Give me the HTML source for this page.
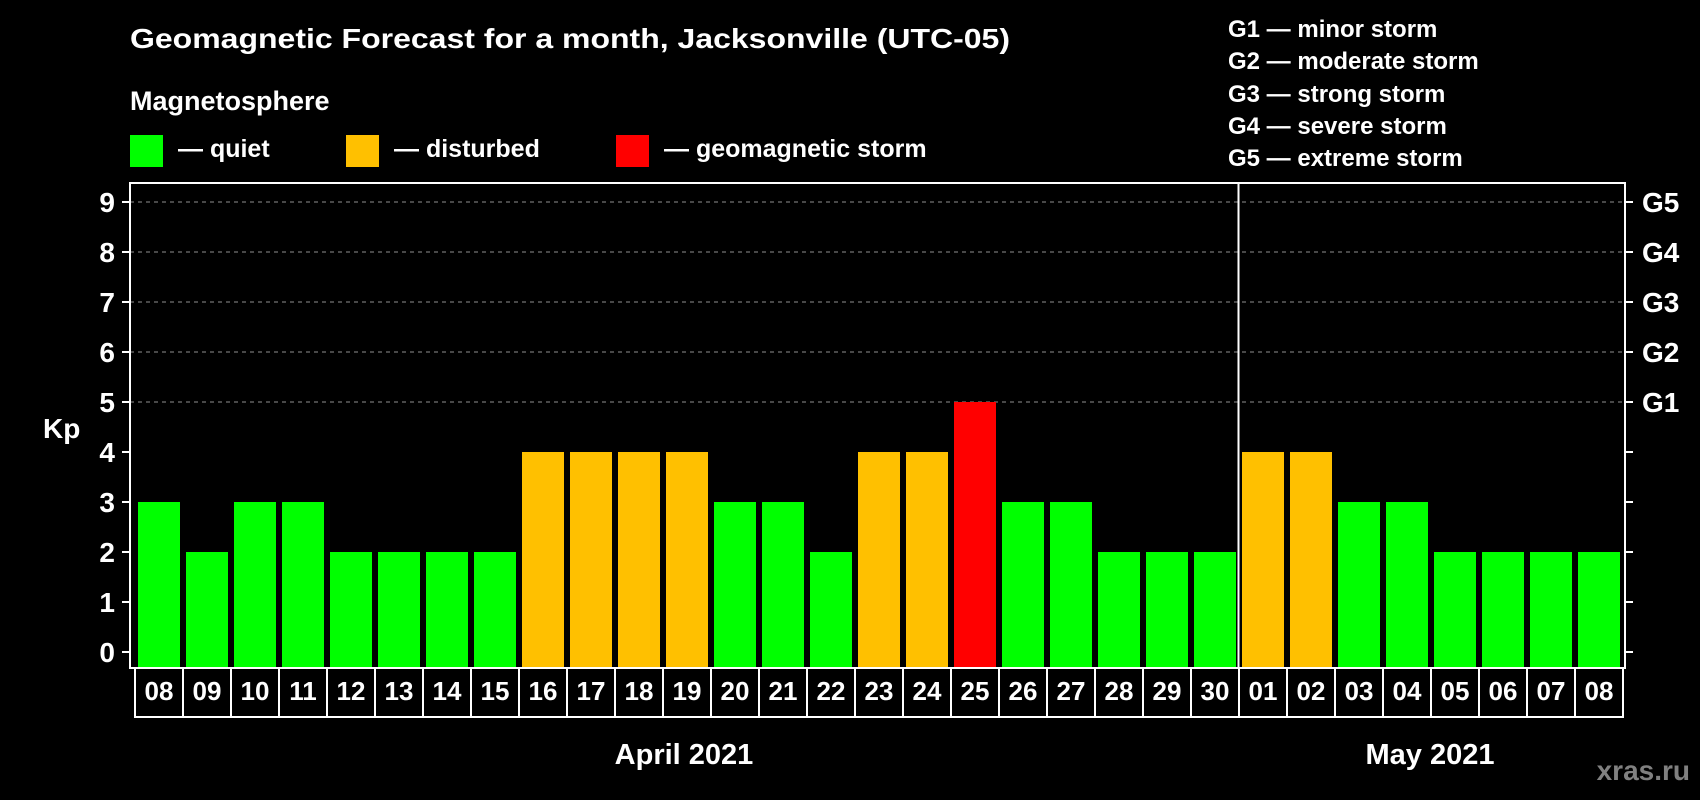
<!DOCTYPE html>
<html><head><meta charset="utf-8"><style>
html,body{margin:0;padding:0;background:#000;}
svg{display:block;font-family:"Liberation Sans",Arial,sans-serif;font-weight:bold;}
</style></head><body>
<svg id="chart" width="1700" height="800" viewBox="0 0 1700 800">
<rect x="0" y="0" width="1700" height="800" fill="#000"/>
<text x="130" y="48" font-size="28" fill="#fff" textLength="880" lengthAdjust="spacingAndGlyphs">Geomagnetic Forecast for a month, Jacksonville (UTC-05)</text>
<text x="130" y="110" font-size="27" fill="#fff">Magnetosphere</text>
<g>
<rect x="130" y="135" width="33" height="32" fill="#00ff00"/>
<text x="178" y="157" font-size="25" fill="#fff">— quiet</text></g>
<g>
<rect x="346" y="135" width="33" height="32" fill="#ffc000"/>
<text x="394" y="157" font-size="25" fill="#fff">— disturbed</text></g>
<g>
<rect x="616" y="135" width="33" height="32" fill="#ff0000"/>
<text x="664" y="157" font-size="25" fill="#fff">— geomagnetic storm</text></g>
<g font-size="24" fill="#fff">
<text x="1228" y="37">G1 — minor storm</text>
<text x="1228" y="69">G2 — moderate storm</text>
<text x="1228" y="102">G3 — strong storm</text>
<text x="1228" y="134">G4 — severe storm</text>
<text x="1228" y="166">G5 — extreme storm</text>
</g>
<text x="43" y="438" font-size="28" fill="#fff">Kp</text>
<g id="grid"></g><g id="bars"></g><g id="axes"></g><g id="cells"></g>
<text x="684" y="764" font-size="29" fill="#fff" text-anchor="middle">April 2021</text>
<text x="1430" y="764" font-size="29" fill="#fff" text-anchor="middle">May 2021</text>
<text x="1690" y="780" font-size="28" fill="#808080" text-anchor="end">xras.ru</text>
</svg>
<script>
const days = ["08","09","10","11","12","13","14","15","16","17","18","19","20","21","22","23","24","25","26","27","28","29","30","01","02","03","04","05","06","07","08"];
const kpValues = [3,2,3,3,2,2,2,2,4,4,4,4,3,3,2,4,4,5,3,3,2,2,2,4,4,3,3,2,2,2,2];
const yTicks = [0,1,2,3,4,5,6,7,8,9];
const gLabels = ["G1","G2","G3","G4","G5"];
const gLevels = [5,6,7,8,9];

const NS="http://www.w3.org/2000/svg";
const L=130,R=1625,T=183,B=668,X0=135,PITCH=48,BW=42;
function y(v){return 652-50*v;}
function x(i){return X0+i*PITCH;}
function mk(tag,attrs,parent){const e=document.createElementNS(NS,tag);for(const k in attrs)e.setAttribute(k,attrs[k]);parent.appendChild(e);return e;}
function color(v){return v>=5?"#ff0000":(v>=4?"#ffc000":"#00ff00");}
const grid=document.getElementById('grid'),bars=document.getElementById('bars'),axes=document.getElementById('axes'),cells=document.getElementById('cells');

gLevels.forEach((lv,i)=>{
  const ln=mk('line',{x1:L,x2:R,y1:y(lv),y2:y(lv),stroke:'#909090','stroke-width':1,'stroke-dasharray':'4,4'},grid);
  
  
  const t=mk('text',{x:1642,y:y(lv)+10,'font-size':28,fill:'#fff'},axes);
  t.textContent=gLabels[i];
  
  
});
kpValues.forEach((v,i)=>{
  const r=mk('rect',{x:x(i)+3,y:y(v),width:BW,height:B-y(v),fill:color(v)},bars);
  
  
});
yTicks.forEach(v=>{
  const a=mk('line',{x1:122,x2:L,y1:y(v),y2:y(v),stroke:'#fff','stroke-width':2},axes);
  
  
  const b=mk('line',{x1:R,x2:R+8,y1:y(v),y2:y(v),stroke:'#fff','stroke-width':2},axes);
  
  
  const t=mk('text',{x:115,y:y(v)+10,'font-size':28,fill:'#fff','text-anchor':'end'},axes);
  t.textContent=v;
  
  
});
const fr=mk('rect',{x:L,y:T,width:R-L,height:B-T,fill:'none',stroke:'#fff','stroke-width':2},axes);


const sep=mk('line',{x1:x(23)-0.5,x2:x(23)-0.5,y1:T,y2:B,stroke:'#fff','stroke-width':2},axes);


days.forEach((d,i)=>{
  const c=mk('rect',{x:x(i),y:B,width:PITCH,height:49,fill:'#000',stroke:'#fff','stroke-width':2},cells);
  
  
  const t=mk('text',{x:x(i)+PITCH/2,y:700,'font-size':26,fill:'#fff','text-anchor':'middle'},cells);
  t.textContent=d;
  
  
});
</script>
</body></html>
